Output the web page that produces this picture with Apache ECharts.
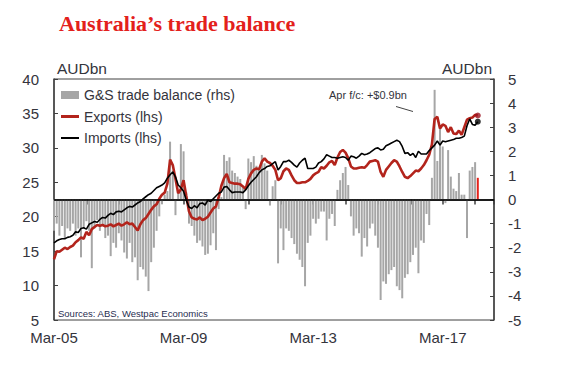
<!DOCTYPE html>
<html>
<head>
<meta charset="utf-8">
<script src="https://cdn.jsdelivr.net/npm/echarts@6/dist/echarts.min.js"></script>
<style>
html,body{margin:0;padding:0;background:#fff;}
#chart{width:564px;height:374px;}
</style>
</head>
<body>
<div id="chart"></div>
<script>
// Months indexed from Mar-05 (index 0) to Apr-18 (index 157)
const tickLabels = ['Mar-05', 'Mar-09', 'Mar-13', 'Mar-17'];
const tickStep = 48; // months between labelled ticks

// Exports (lhs), AUDbn, Mar-05 .. Mar-18
const exportsData = [
  13.8, 15.0, 14.9, 15.2, 15.5, 15.3, 15.6, 15.8, 16.3, 16.6,
  17.0, 16.8, 17.8, 17.3, 18.2, 18.5, 18.8, 18.7, 18.8, 18.6,
  18.7, 18.9, 18.6, 18.8, 19.0, 18.7, 18.9, 19.2, 18.9, 19.0,
  18.5, 18.0, 18.9, 19.5, 19.8, 20.4, 21.0, 21.5, 21.8, 22.6,
  23.2, 23.5, 24.8, 28.3, 27.5, 25.5, 23.4, 24.0, 25.3, 23.0,
  20.8, 19.9, 19.7, 19.6, 19.9, 19.5, 19.7, 20.0, 20.6, 21.2,
  21.5, 22.8, 24.5, 25.6, 26.2, 25.0, 24.9, 24.8, 24.8, 24.7,
  24.4, 24.0, 25.5, 26.3, 26.8, 27.0, 26.9, 28.0, 28.5, 28.0,
  27.8, 27.4, 26.8, 25.3, 25.6, 26.6, 27.0, 26.8, 26.0, 25.3,
  24.9, 24.9, 25.0, 25.0, 25.2, 25.5, 26.0, 26.3, 26.5, 27.2,
  27.0, 27.4, 27.9, 28.1, 27.5, 28.6, 29.4, 29.7, 29.3, 28.5,
  27.3, 27.0, 27.0, 27.1, 27.2, 27.1, 27.5, 28.0, 28.1, 28.2,
  28.0, 26.5, 25.8, 26.8, 27.3, 27.8, 28.2, 28.0, 27.3, 26.5,
  25.8, 25.6, 25.9, 26.3, 26.7, 26.6, 27.0, 27.5, 28.2, 29.0,
  30.5, 34.2, 34.5, 32.8, 33.4, 33.2, 32.3, 33.0, 32.1, 32.0,
  32.5, 31.9, 33.0, 34.1, 34.3, 34.4, 34.8
];
// Imports (lhs), AUDbn, Mar-05 .. Mar-18
const importsData = [
  16.2, 16.5, 16.7, 16.8, 16.8, 17.0, 17.1, 17.3, 17.8, 17.7,
  18.3, 18.4, 18.2, 18.9, 19.1, 19.3, 19.2, 19.6, 19.9, 19.8,
  20.2, 20.5, 20.3, 20.7, 20.8, 20.7, 21.0, 21.3, 21.5, 21.4,
  21.7, 22.0, 22.2, 22.6, 22.9, 23.2, 23.4, 23.8, 24.2, 24.4,
  24.6, 24.9, 25.6, 26.1, 26.5, 25.8, 24.6, 24.2, 23.7, 22.4,
  21.4, 21.2, 21.6, 21.3, 21.9, 22.0, 21.7, 22.4, 22.2, 22.6,
  23.0, 23.4, 23.6, 24.3, 24.4, 23.9, 23.5, 23.6, 23.6, 23.6,
  23.5, 23.9, 24.5, 25.0, 25.4, 25.8, 26.4, 26.8, 27.0, 27.3,
  27.4, 27.7, 28.0, 26.8, 27.3, 28.0, 28.0, 28.2, 27.9, 27.5,
  27.2, 27.8, 28.2, 28.5, 27.0, 27.0, 27.0, 27.2, 27.8, 28.0,
  28.4, 29.0, 28.8, 28.6, 28.6, 28.5, 28.6, 28.7, 28.6, 28.2,
  28.8, 28.7, 28.5, 28.8, 29.2, 29.0, 29.1, 29.3, 29.6, 29.9,
  30.0, 29.7, 29.8, 30.3, 30.5, 30.7, 30.9, 31.1, 30.9, 30.2,
  29.2, 29.3, 28.9, 29.2, 28.6, 29.5, 29.1, 29.1, 29.1, 29.6,
  30.0, 30.4, 31.0, 30.4, 31.0, 30.9, 31.0, 31.1, 31.2, 31.4,
  31.4, 31.5, 31.7, 33.2, 34.2, 33.4, 33.3
];
// April 2018 forecasts
const exportsForecast = 34.7;
const importsForecast = 33.8;

// G&S trade balance (rhs), AUDbn, Mar-05 .. Mar-18
const balanceData = [
  -1.3, -1.0, -1.5, -1.1, -1.6, -1.2, -1.3, -1.0, -1.5, -1.2,
  -2.4, -1.2, -0.9, -1.3, -2.85, -1.2, -0.85, -1.3, -1.1, -1.6,
  -1.5, -2.35, -1.8, -2.0, -1.4, -1.7, -2.2, -2.45, -1.8, -2.6,
  -2.4, -3.35, -2.8, -2.9, -3.2, -3.8, -2.6, -2.0, -1.3, -0.7,
  -0.2, 0.2, 0.35, 2.4, 1.2, -0.65, 0.3, 2.3, 2.0, 0.3,
  -1.0, -1.1, -1.5, -1.8, -1.7, -1.95, -2.3, -2.25, -1.9, -1.4,
  -2.1, -0.4, 0.1, 1.85, 1.6, 1.75, 1.2, 1.1, 0.95, 0.85,
  0.55, -0.4, 1.7, 1.55, 1.8, 1.4, 1.3, 1.85, 1.5, 1.2,
  -0.25, 0.55, 0.8, -2.65, -1.2, -2.1, -1.2, -1.3, -1.6, -1.85,
  -2.25, -2.5, -2.8, -3.6, -1.8, -1.5, -0.8, -1.0, -0.8, -0.5,
  -0.5, -1.7, -0.8, -0.6, -1.1, 0.4, 0.8, 1.1, 1.35, 0.6,
  -0.7, -1.5, -1.2, -1.4, -2.37, -1.6, -1.95, -1.2, -1.0, -1.5,
  -2.0, -4.17, -3.4, -3.5, -3.1, -2.93, -2.8, -3.6, -3.76, -4.1,
  -3.25, -3.1, -2.6, -2.3, -2.0, -3.06, -1.7, -1.8, -0.6, -1.06,
  0.9, 4.55, 1.6, 3.0, 2.2, -0.15, 2.05, 0.95, 0.45, 0.35,
  1.1, 0.2, 0.2, -1.6, 1.2, 1.35, 1.55
];
const balanceForecast = 0.9; // Apr f/c

const FONT = '"Liberation Sans", Arial, sans-serif';
const TXT = '#34343c';

const barSeriesData = balanceData.map((v, i) => [i, v]);
barSeriesData.push({ value: [balanceData.length, balanceForecast], itemStyle: { color: '#e5231b' } });

const expSeriesData = exportsData.map((v, i) => [i, v]);
expSeriesData.push([exportsData.length, exportsForecast]);
const impSeriesData = importsData.map((v, i) => [i, v]);
impSeriesData.push([importsData.length, importsForecast]);

const chart = echarts.init(document.getElementById('chart'), null, { renderer: 'svg' });
chart.setOption({
  animation: false,
  backgroundColor: '#fff',
  title: {
    text: 'Australia\u2019s trade balance',
    left: 54, top: 7,
    textStyle: { fontFamily: '"Liberation Serif", "Times New Roman", serif', fontWeight: 'bold', fontSize: 22, color: '#e3201b' }
  },
  grid: { left: 54, right: 70, top: 79, bottom: 54, show: true, borderColor: '#404040', borderWidth: 1, containLabel: false },
  legend: {
    orient: 'vertical', left: 56, top: 82,
    itemWidth: 18, itemHeight: 8, itemGap: 5.5,
    textStyle: { fontFamily: FONT, fontSize: 14, color: TXT, lineHeight: 16 },
    data: [
      { name: 'G&S trade balance (rhs)', icon: 'rect', itemStyle: { color: '#a6a6a6' } },
      { name: 'Exports (lhs)', icon: 'path://M0,0 L18,0 L18,3 L0,3 Z', itemStyle: { color: '#b3241c' } },
      { name: 'Imports (lhs)', icon: 'path://M0,0 L18,0 L18,2 L0,2 Z', itemStyle: { color: '#000' } }
    ]
  },
  xAxis: {
    type: 'value', min: 0, max: 163, interval: 12,
    axisLine: { show: true, lineStyle: { color: '#404040', width: 1.5 } },
    axisTick: { show: true, inside: false, length: 5, lineStyle: { color: '#404040', width: 1.5 } },
    splitLine: { show: false },
    axisLabel: {
      fontFamily: FONT, fontSize: 15, color: TXT, margin: 10,
      formatter: function (v) { return (v % tickStep === 0 && tickLabels[v / tickStep]) ? tickLabels[v / tickStep] : ''; }
    }
  },
  yAxis: [
    {
      type: 'value', min: 5, max: 40, interval: 5, position: 'left',
      name: 'AUDbn', nameLocation: 'end', nameGap: 3,
      nameTextStyle: { fontFamily: FONT, fontSize: 15.5, color: TXT, align: 'left', padding: [0, 0, 0, 3] },
      axisLine: { show: true, lineStyle: { color: '#404040', width: 1.5 } },
      axisTick: { show: true, inside: true, length: 4, lineStyle: { color: '#404040' } },
      splitLine: { show: false },
      axisLabel: { fontFamily: FONT, fontSize: 15, color: TXT, margin: 15 }
    },
    {
      type: 'value', min: -5, max: 5, interval: 1, position: 'right',
      name: 'AUDbn', nameLocation: 'end', nameGap: 3,
      nameTextStyle: { fontFamily: FONT, fontSize: 15.5, color: TXT, align: 'right', padding: [0, 2, 0, 0] },
      axisLine: { show: true, lineStyle: { color: '#404040', width: 1.5 } },
      axisTick: { show: true, inside: true, length: 4, lineStyle: { color: '#404040' } },
      splitLine: { show: false },
      axisLabel: { fontFamily: FONT, fontSize: 15, color: TXT, margin: 14 }
    }
  ],
  series: [
    {
      name: 'G&S trade balance (rhs)', type: 'bar', yAxisIndex: 1,
      barWidth: 2, itemStyle: { color: '#a6a6a6' },
      data: barSeriesData, z: 2,
      markLine: {
        silent: true, symbol: 'none', label: { show: false },
        lineStyle: { color: '#000', width: 1.5, type: 'solid' },
        data: [{ yAxis: 0 }]
      }
    },
    {
      name: 'Exports (lhs)', type: 'line', yAxisIndex: 0, symbol: 'none',
      lineStyle: { color: '#b3241c', width: 2.6 }, itemStyle: { color: '#b3241c' },
      data: expSeriesData, z: 4
    },
    {
      name: 'Imports (lhs)', type: 'line', yAxisIndex: 0, symbol: 'none',
      lineStyle: { color: '#000', width: 1.6 }, itemStyle: { color: '#000' },
      data: impSeriesData, z: 5
    },
    {
      name: 'Exports f/c', type: 'scatter', yAxisIndex: 0, symbolSize: 6,
      itemStyle: { color: '#9c1420' }, data: [[exportsData.length, exportsForecast]], z: 6
    },
    {
      name: 'Imports f/c', type: 'scatter', yAxisIndex: 0, symbolSize: 6,
      itemStyle: { color: '#000' }, data: [[importsData.length, importsForecast]], z: 6
    }
  ],
  graphic: [
    { type: 'text', left: 329, top: 89, style: { text: 'Apr f/c: +$0.9bn', font: '11px ' + FONT, fill: TXT } },
    { type: 'line', shape: { x1: 396, y1: 106.5, x2: 413, y2: 111.5 }, style: { stroke: '#444', lineWidth: 1 } },
    { type: 'text', left: 58, top: 308, style: { text: 'Sources: ABS, Westpac Economics', font: '9.5px ' + FONT, fill: '#1f2d50' } }
  ]
});
</script>
</body>
</html>
